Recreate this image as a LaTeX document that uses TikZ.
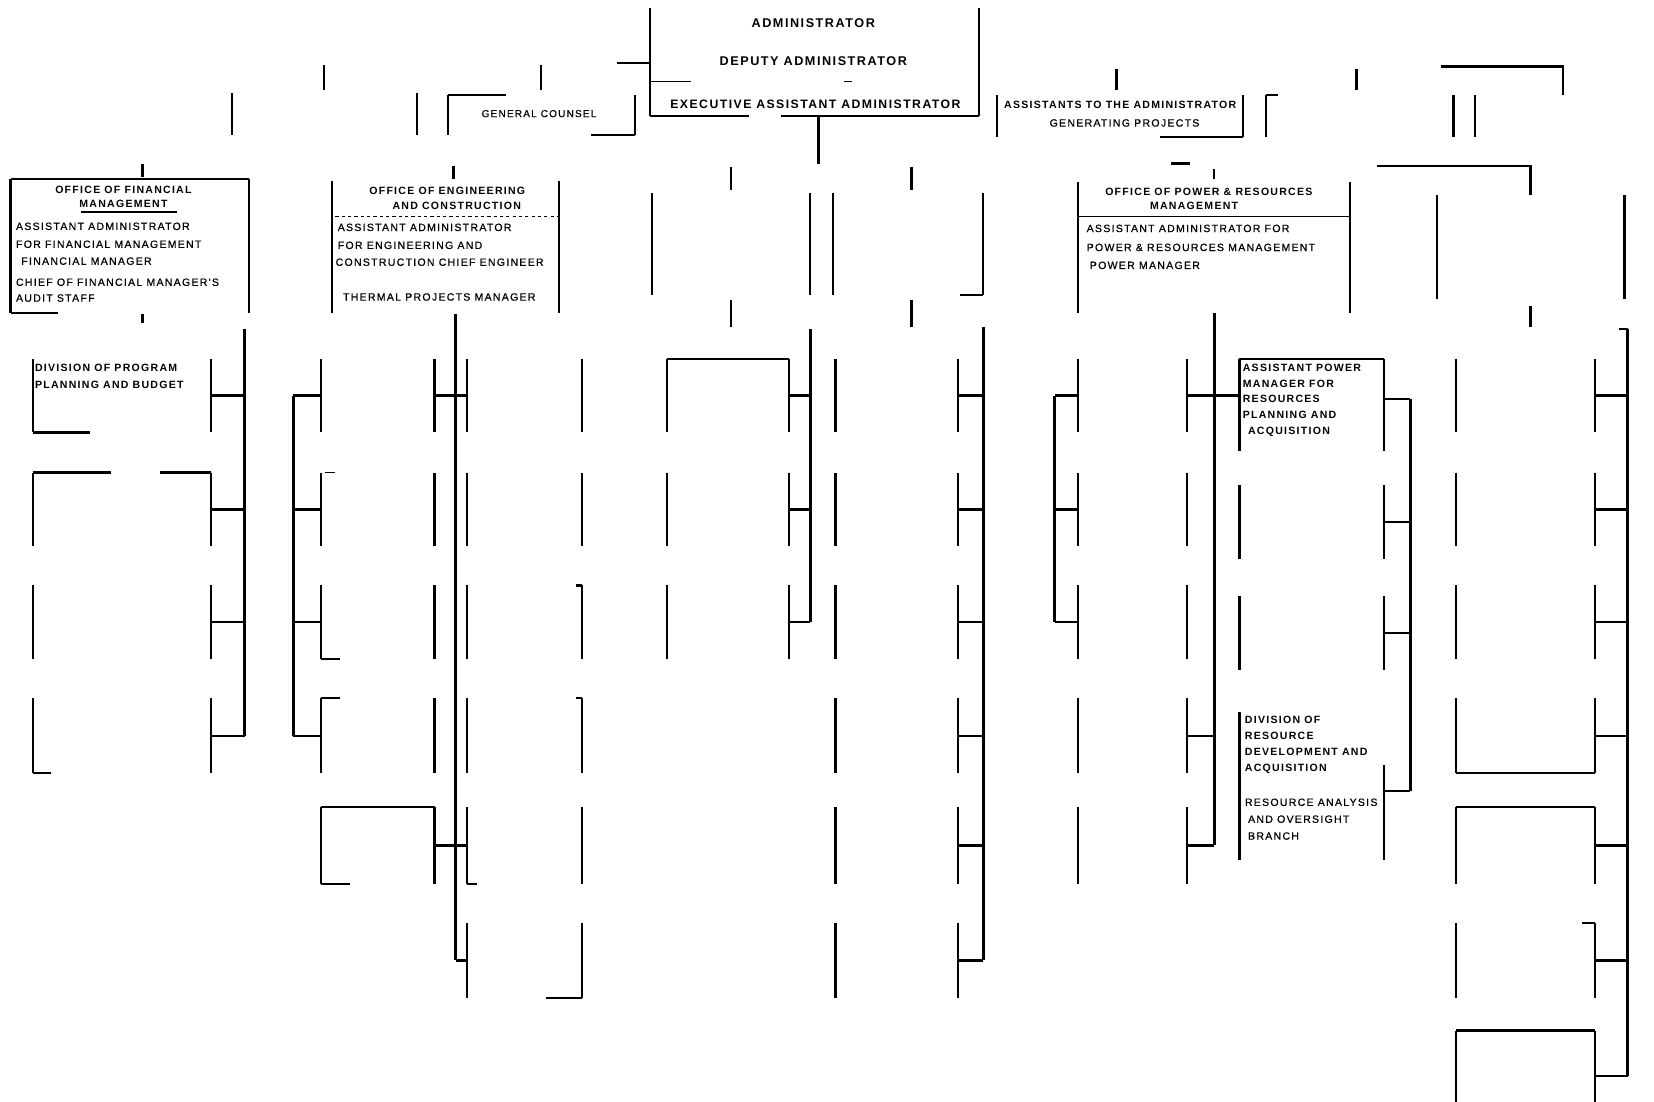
\documentclass[tikz,border=0pt]{standalone}
\usepackage{fontspec}
\setmainfont{Liberation Sans}
\newfontfamily\cf[LetterSpace=12]{Liberation Sans}
\newfontfamily\cfr[LetterSpace=12,FakeBold=0.6]{Liberation Sans}
\usetikzlibrary{fit}
\newcommand\mkbox[5]{\node[bx, fit={(#2,#3) (#4,#5)}] (#1) {};}
\newcommand\bsides[1]{\draw[ln] (#1.north west) -- (#1.south west) (#1.north east) -- (#1.south east);}
\tikzset{
 bx/.style={inner sep=0pt, outer sep=0pt},
 ln/.style={line width=2.1pt},
 sp/.style={line width=2.6pt},
 hair/.style={line width=1.2pt},
 tA/.style={inner sep=0pt, font=\cf\bfseries\fontsize{12}{14}\selectfont},
 tE/.style={inner sep=0pt, font=\cf\bfseries\fontsize{11.6}{14}\selectfont},
 tH/.style={inner sep=0pt, font=\cf\bfseries\fontsize{10}{12}\selectfont},
 tB/.style={inner sep=0pt, font=\cfr\fontsize{10}{12}\selectfont},
}
\begin{document}
\begin{tikzpicture}[x=1pt,y=-1pt]
\useasboundingbox (0,0) rectangle (1568,1044);
\fill[white] (0,0) rectangle (1568,1044);
\clip (0,0) rectangle (1568,1044);

% ---------------- top box
\mkbox{adm}{616}{8}{928}{110}
\bsides{adm}
\draw[ln] (adm.south west) -- ++(94,0);
\draw[ln] (adm.south east) -- ++(-188,0);
\draw[hair] (adm.north west) ++(0,69) -- ++(39,0);
\draw[hair] (adm.north west) ++(184,69) -- ++(8,0);
\coordinate (admin) at (585,60);
\draw[ln] (admin) -- (admin -| adm.west);
\coordinate (admdown) at (776,155);
\draw[ln] (admdown |- adm.south) -- (admdown);
\node[tA, anchor=base] (t1) at (771,26) {ADMINISTRATOR};
\node[tA, anchor=base] (t2) at (771,62) {DEPUTY ADMINISTRATOR};
\node[tE, anchor=base] (t3) at (773,103) {EXECUTIVE ASSISTANT ADMINISTRATOR};

% ---------------- top row boxes
\mkbox{tb0}{220}{88}{395}{128}
\bsides{tb0}
\mkbox{gc}{425}{90}{602}{128}
\bsides{gc}
\draw[hair] (gc.north west) -- ++(55,0);
\draw[ln] (gc.south east) -- ++(-42,0);
\mkbox{asst}{945}{90}{1178}{130}
\bsides{asst}
\draw[ln] (asst.south east) -- ++(-78,0);
\mkbox{tb3}{1200}{90}{1378}{130}
\bsides{tb3}
\draw[ln] (tb3.north west) -- ++(12,0);
\mkbox{tb4}{1398}{90}{1566}{130}
\draw[ln] (tb4.north west) -- (tb4.south west);
\draw[ln] (tb0.north) ++(0,-3) -- ++(0,-23);
\draw[ln] (gc.north) ++(-1,-5) -- ++(0,-23);
\draw[ln] (asst.north) ++(-3,-5) -- ++(0,-20);
\draw[ln] (tb3.north) ++(-3,-5) -- ++(0,-20);
\coordinate (trin) at (1366,63);
\draw[ln] (trin) -| (tb4.north);
\node[tB, anchor=base, font=\cfr\fontsize{9.5}{11}\selectfont] (t4) at (511,111) {GENERAL COUNSEL};
\node[tH, anchor=base] (t5) at (1062,103) {ASSISTANTS TO THE ADMINISTRATOR};
\node[tB, anchor=base] (t6) at (1066,120) {GENERATING PROJECTS};

% ---------------- offices row
\mkbox{fin}{10}{170}{236}{297}
\bsides{fin}
\draw[ln] (fin.north west) -- (fin.north east);
\draw[ln] (fin.south west) -- ++(45,0);
\draw[hair] (fin.north west) ++(67,31) -- ++(91,0);
\mkbox{eng}{315}{172}{530}{297}
\bsides{eng}
\draw[hair, dashed] (eng.north west) ++(3,33) -- (eng.north east |- 0,205);
\mkbox{bx3}{618}{183}{768}{280}
\bsides{bx3}
\mkbox{bx4}{790}{183}{932}{280}
\bsides{bx4}
\draw[ln] (bx4.south east) -- ++(-22,0);
\mkbox{pow}{1022}{173}{1280}{297}
\bsides{pow}
\draw[hair] (pow.west |- 0,205) -- (pow.east |- 0,205);
\mkbox{bx6}{1362}{185}{1540}{283}
\bsides{bx6}

% ticks above/below offices
\draw[ln] (fin.north west) ++(125,-2) -- ++(0,-13);
\draw[ln] (eng.north west) ++(115,-2) -- ++(0,-13);
\draw[ln] (bx3.north) ++(0,-3) -- ++(0,-22);
\draw[ln] (bx4.north) ++(3,-3) -- ++(0,-22);
\draw[ln] (pow.north) ++(0,-3) -- ++(0,-10);
\draw[ln] (pow.north) ++(-41,-18) -- ++(18,0);
\coordinate (b6in) at (1305,157);
\draw[ln] (b6in) -| (bx6.north);
\draw[ln] (fin.south west) ++(125,1) -- ++(0,8);
\draw[ln] (bx3.south) ++(0,4) -- ++(0,26);
\draw[ln] (bx4.south) ++(3,4) -- ++(0,26);
\draw[ln] (bx6.south) ++(0,7) -- ++(0,20);

% office texts
\node[tH, anchor=base] (f1) at (117,183) {OFFICE OF FINANCIAL};
\node[tH, anchor=base] (f2) at (117,197) {MANAGEMENT};
\node[tB, anchor=base west] (f3) at (15,218) {ASSISTANT ADMINISTRATOR};
\node[tB, anchor=base west] (f4) at (15,235) {FOR FINANCIAL MANAGEMENT};
\node[tB, anchor=base west] (f5) at (20,251) {FINANCIAL MANAGER};
\node[tB, anchor=base west] (f6) at (15,271) {CHIEF OF FINANCIAL MANAGER'S};
\node[tB, anchor=base west] (f7) at (15,286) {AUDIT STAFF};

\node[tH, anchor=base] (e1) at (424,184) {OFFICE OF ENGINEERING};
\node[tH, anchor=base] (e2) at (433,199) {AND CONSTRUCTION};
\node[tB, anchor=base west] (e3) at (320,219) {ASSISTANT ADMINISTRATOR};
\node[tB, anchor=base west] (e4) at (320,236) {FOR ENGINEERING AND};
\node[tB, anchor=base west] (e5) at (318,252) {CONSTRUCTION CHIEF ENGINEER};
\node[tB, anchor=base west] (e6) at (325,285) {THERMAL PROJECTS MANAGER};

\node[tH, anchor=base] (p1) at (1146,185) {OFFICE OF POWER \& RESOURCES};
\node[tH, anchor=base] (p2) at (1132,199) {MANAGEMENT};
\node[tB, anchor=base west] (p3) at (1030,220) {ASSISTANT ADMINISTRATOR FOR};
\node[tB, anchor=base west] (p4) at (1030,238) {POWER \& RESOURCES MANAGEMENT};
\node[tB, anchor=base west] (p5) at (1033,255) {POWER MANAGER};

% ---------------- lower grid of boxes
\foreach \c/\xa/\xb/\n in {A/31/200/4,B/304/412/5,H/443/552/6,C/632/748/3,D/792/908/6,E/1022/1125/5,G/1380/1512/7}{
  \foreach \r/\ya/\yb in {1/340/410,2/448/518,3/555/625,4/662/733,5/765/838,6/875/946,7/977/1063}{
    \ifnum\r>\n\relax\else
      \node[bx, fit={(\xa,\ya) (\xb,\yb)}] (\c\r) {};
      \draw[ln] (\c\r.north west) -- (\c\r.south west) (\c\r.north east) -- (\c\r.south east);
    \fi
  }
}
\mkbox{F1}{1175}{340}{1312}{428}
\bsides{F1}
\draw[ln] (F1.north west) -- (F1.north east);
\mkbox{F2}{1175}{460}{1312}{530}
\bsides{F2}
\mkbox{F3}{1175}{565}{1312}{635}
\bsides{F3}
\mkbox{F4}{1175}{675}{1312}{815}
\draw[ln] (F4.north west) -- (F4.south west);
\draw[ln] (F4.south east) -- ++(0,-90);

% partial edges
\draw[ln] (A1.south west) -- ++(54,0);
\draw[ln] (A2.north west) -- ++(74,0);
\draw[ln] (A2.north east) -- ++(-48,0);
\draw[ln] (A4.south west) -- ++(17,0);
\draw[hair] (B2.north west) ++(4,0) -- ++(10,0);
\draw[ln] (B3.south west) -- ++(18,0);
\draw[ln] (B4.north west) -- ++(18,0);
\draw[ln] (B5.north west) -- (B5.north east);
\draw[ln] (B5.south west) -- ++(28,0);
\draw[ln] (H3.north east) -- ++(-6,0);
\draw[ln] (H4.north east) -- ++(-6,0);
\draw[ln] (H5.south west) -- ++(9,0);
\draw[ln] (H6.south east) -- ++(-34,0);
\draw[ln] (C1.north west) -- (C1.north east);
\draw[ln] (G4.south west) -- (G4.south east);
\draw[ln] (G5.north west) -- (G5.north east);
\draw[ln] (G6.north east) -- ++(-12,0);
\draw[ln] (G7.north west) -- (G7.north east);

% ---------------- spines and connectors
\coordinate (sA) at (232,312);
\draw[sp] (sA) -- (sA |- A4.east);
\foreach \r in {1,...,4} \draw[ln] (A\r.east) -- (A\r.east -| sA);

\coordinate (sB) at (278,375);
\draw[sp] (sB) -- (sB |- B4.west);
\foreach \r in {1,...,4} \draw[ln] (B\r.west) -- (B\r.west -| sB);

\coordinate (sEng) at (432,298);
\draw[sp] (sEng) -- (sEng |- H6.west);
\draw[ln] (B1.east) -- (H1.west);
\draw[ln] (B5.east) -- (H5.west);
\draw[ln] (H6.west -| sEng) -- (H6.west);

\coordinate (sC) at (768,312);
\draw[sp] (sC) -- (sC |- C3.east);
\foreach \r in {1,...,3} \draw[ln] (C\r.east) -- (C\r.east -| sC);

\coordinate (sD) at (932,310);
\draw[sp] (sD) -- (sD |- D6.east);
\foreach \r in {1,...,6} \draw[ln] (D\r.east) -- (D\r.east -| sD);

\draw[sp] (pow.south) -- (pow.south |- E5.east);
\draw[ln] (E1.east) -- (E1.east -| F1.west);
\draw[ln] (E4.east) -- (E4.east -| pow.south);
\draw[ln] (E5.east) -- (E5.east -| pow.south);

\coordinate (sE) at (1000,375);
\draw[sp] (sE) -- (sE |- E3.west);
\foreach \r in {1,...,3} \draw[ln] (E\r.west) -- (E\r.west -| sE);

\coordinate (sF) at (1337,378);
\coordinate (f4c) at (1337,750);
\draw[sp] (sF) -- (f4c);
\draw[ln] (sF -| F1.east) -- (sF);
\draw[ln] (F2.east) -- (F2.east -| sF);
\draw[ln] (F3.east) -- (F3.east -| sF);
\draw[ln] (f4c -| F4.east) -- (f4c);

\coordinate (sG) at (1543,312);
\draw[sp] (sG) -- (sG |- G7.east);
\draw[ln] (sG) -- ++(-8,0);
\foreach \r in {1,...,7} \draw[ln] (G\r.east) -- (G\r.east -| sG);

% ---------------- lower texts
\node[tH, anchor=base west] (a1) at (33,352) {DIVISION OF PROGRAM};
\node[tH, anchor=base west] (a2) at (33,368) {PLANNING AND BUDGET};

\node[tH, anchor=base west] (m1) at (1178,352) {ASSISTANT POWER};
\node[tH, anchor=base west] (m2) at (1178,367) {MANAGER FOR};
\node[tH, anchor=base west] (m3) at (1178,382) {RESOURCES};
\node[tH, anchor=base west] (m4) at (1178,397) {PLANNING AND};
\node[tH, anchor=base west] (m5) at (1183,412) {ACQUISITION};

\node[tH, anchor=base west] (d1) at (1180,686) {DIVISION OF};
\node[tH, anchor=base west] (d2) at (1180,701) {RESOURCE};
\node[tH, anchor=base west] (d3) at (1180,716) {DEVELOPMENT AND};
\node[tH, anchor=base west] (d4) at (1180,731) {ACQUISITION};
\node[tB, anchor=base west] (d5) at (1180,764) {RESOURCE ANALYSIS};
\node[tB, anchor=base west] (d6) at (1183,780) {AND OVERSIGHT};
\node[tB, anchor=base west] (d7) at (1183,796) {BRANCH};
\end{tikzpicture}
\end{document}
